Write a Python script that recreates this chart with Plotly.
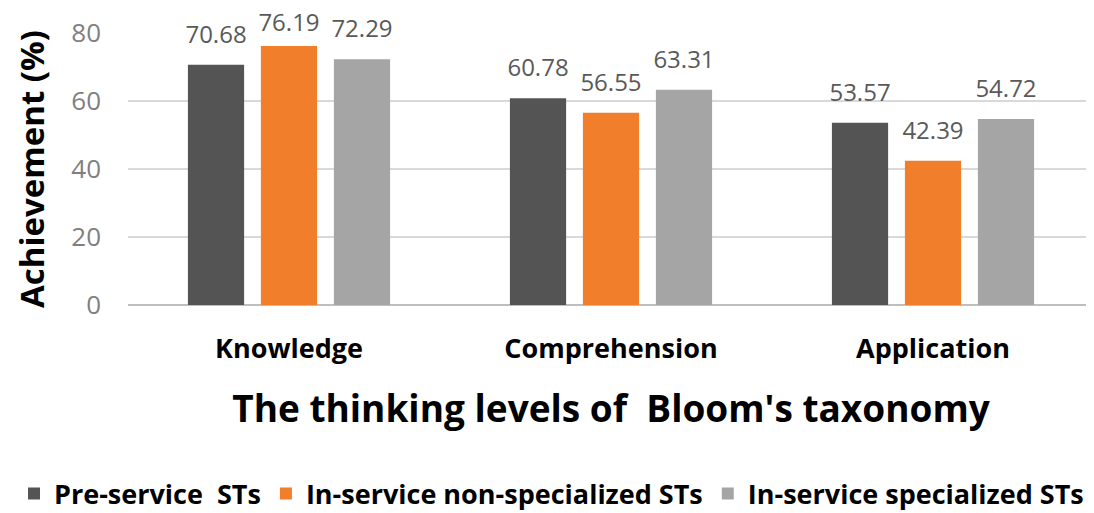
import plotly.graph_objects as go

levels = ["Knowledge", "Comprehension", "Application"]
series_names = ["Pre-service  STs", "In-service non-specialized STs", "In-service specialized STs"]
pre_service = [70.68, 60.78, 53.57]
in_service_non = [76.19, 56.55, 42.39]
in_service_spec = [72.29, 63.31, 54.72]

colors = ["#545454", "#F07E2A", "#A5A5A5"]
# invisible marker size that lifts each label off its bar (top label sits lower, as in the original)
label_lift = [[24, 24, 24], [12, 24, 24], [24, 24, 24]]
font_family = "Open Sans"

fig = go.Figure()

for i, (name, vals, col) in enumerate(zip(series_names, [pre_service, in_service_non, in_service_spec], colors)):
    fig.add_trace(go.Bar(
        x=levels,
        y=vals,
        name="<b>" + name + "</b>",
        offsetgroup=str(i),
        marker=dict(color=col, line=dict(width=0)),
        hoverinfo="skip"
    ))
    fig.add_trace(go.Scatter(
        x=levels,
        y=vals,
        mode="markers+text",
        offsetgroup=str(i),
        marker=dict(size=label_lift[i], opacity=0),
        text=[f"{v:.2f}" for v in vals],
        textposition="top center",
        textfont=dict(size=24, color="#595959", family=font_family),
        cliponaxis=False,
        showlegend=False,
        hoverinfo="skip"
    ))

# page body adds an 8px offset, margins are compensated for it
fig.update_layout(
    width=1094,
    height=513,
    paper_bgcolor="white",
    plot_bgcolor="white",
    margin=dict(l=120, r=8, t=25, b=216, autoexpand=False),
    barmode="group",
    scattermode="group",
    bargap=0.32,
    bargroupgap=0.23,
    font=dict(family=font_family, color="#595959"),
    xaxis=dict(
        automargin=False,
        tickfont=dict(size=27, color="black", family=font_family),
        ticks="",
        showline=False,
        ticklabelstandoff=25,
        title=dict(
            text="<b>The thinking levels of  Bloom's taxonomy</b>",
            font=dict(size=37, color="black", family=font_family),
            standoff=31
        )
    ),
    yaxis=dict(
        automargin=False,
        range=[0, 80],
        dtick=20,
        showgrid=True,
        gridcolor="#D9D9D9",
        gridwidth=1.5,
        zeroline=True,
        zerolinecolor="#BFBFBF",
        zerolinewidth=1.5,
        tickfont=dict(size=26, color="#7F7F7F", family=font_family),
        ticklabelstandoff=26,
        title=dict(
            text="<b>Achievement (%)</b>",
            font=dict(size=33, color="black", family=font_family),
            standoff=16
        )
    ),
    legend=dict(
        orientation="h",
        x=-0.118,
        y=-0.605,
        xanchor="left",
        yanchor="top",
        font=dict(size=27, color="black", family=font_family),
        itemwidth=30,
        tracegroupgap=0
    )
)

fig.update_xaxes(tickprefix="<b>", ticksuffix="</b>")

fig.write_html("out.html")
